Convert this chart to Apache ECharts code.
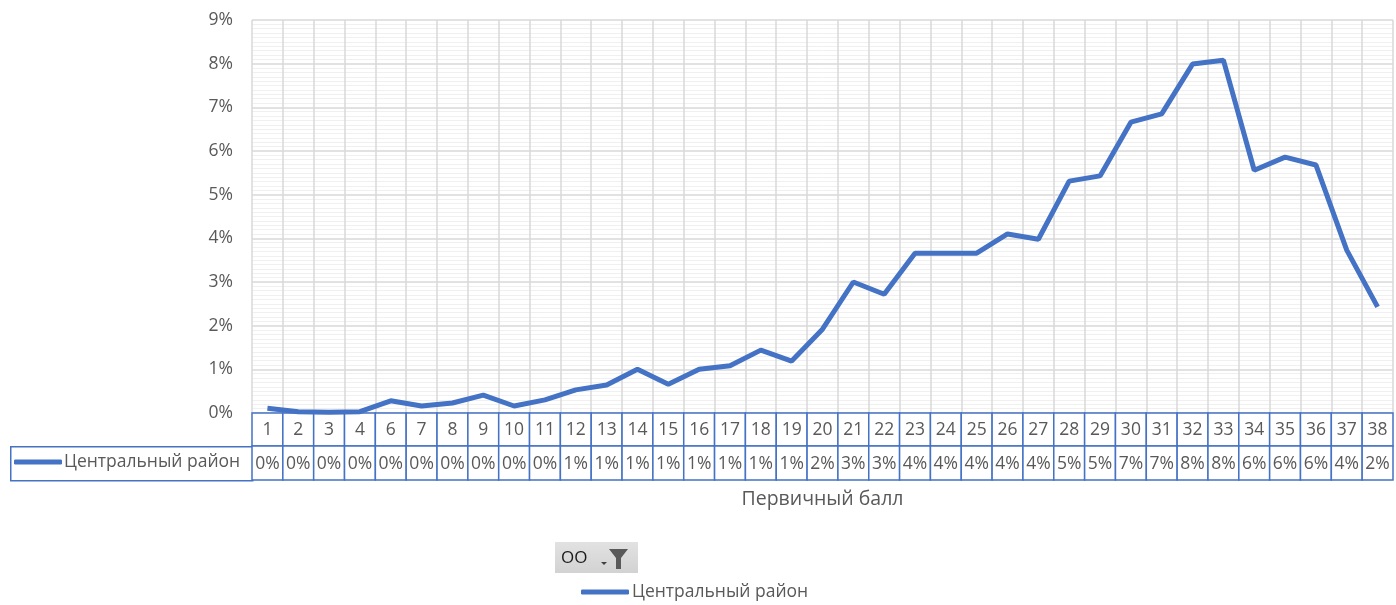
<!DOCTYPE html>
<html>
<head>
<meta charset="utf-8">
<script src="https://cdn.jsdelivr.net/npm/echarts@6/dist/echarts.min.js"></script>
<style>
html,body{margin:0;padding:0;background:#fff;}
#c{width:1396px;height:605px;}
</style>
</head>
<body>
<div id="c"></div>
<script>
// ---- data ----
const categories = ['1','2','3','4','6','7','8','9','10','11','12','13','14','15','16','17','18','19','20','21','22','23','24','25','26','27','28','29','30','31','32','33','34','35','36','37','38'];
const seriesName = 'Центральный район';
const values = [0.11,0.03,0.02,0.03,0.28,0.16,0.23,0.41,0.16,0.30,0.53,0.64,1.00,0.66,1.00,1.08,1.44,1.19,1.92,3.00,2.72,3.66,3.66,3.66,4.10,3.98,5.31,5.43,6.66,6.85,7.99,8.08,5.56,5.86,5.68,3.73,2.43];
const yTicks = {min: 0, max: 9, interval: 1};
const xAxisName = 'Первичный балл';
const filterLabel = 'OO';

// ---- style ----
const FONT = 'Open Sans';
const GRAY = '#595959';
const BLUE = '#4472C4';
const ROW1 = 33, ROW2 = 34;
const FS = 17.5;

const chart = echarts.init(document.getElementById('c'), null, {renderer: 'canvas'});

const tableData = categories.map((c, i) => [i, 0, Math.round(values[i]) + '%', c]);

const option = {
  animation: false,
  backgroundColor: '#fff',
  textStyle: {fontFamily: FONT},
  grid: {left: 252, right: 3, top: 20, bottom: 192, containLabel: false},
  legend: [
    {data: [seriesName], left: 14, top: 453, padding: 0, icon: 'roundRect', itemWidth: 48, itemHeight: 5, itemGap: 0,
     selectedMode: false, textStyle: {fontSize: FS, color: GRAY, fontFamily: FONT, padding: [0, 0, 0, -3]}},
    {data: [seriesName], left: 581, top: 583, padding: 0, icon: 'roundRect', itemWidth: 48, itemHeight: 5, itemGap: 0,
     selectedMode: false, textStyle: {fontSize: FS, color: GRAY, fontFamily: FONT, padding: [0, 0, 0, -2]}}
  ],
  xAxis: {
    type: 'category', data: categories, boundaryGap: true,
    axisLabel: {show: false}, axisTick: {show: false}, axisLine: {show: false},
    splitLine: {show: true, interval: 0, lineStyle: {color: '#d9d9d9', width: 1.5}},
    name: xAxisName, nameLocation: 'middle', nameGap: 76,
    nameTextStyle: {fontSize: 19.5, color: GRAY, fontFamily: FONT}
  },
  yAxis: {
    type: 'value', min: yTicks.min, max: yTicks.max, interval: yTicks.interval,
    axisLabel: {formatter: '{value}%', fontSize: FS, color: GRAY, margin: 19, fontFamily: FONT},
    axisLine: {show: false}, axisTick: {show: false},
    splitLine: {show: true, lineStyle: {color: '#d9d9d9', width: 1.5}},
    minorTick: {show: false, splitNumber: 10},
    minorSplitLine: {show: true, lineStyle: {color: '#f0f0f0', width: 1}}
  },
  series: [
    {
      name: seriesName, type: 'line', data: values, symbol: 'none', showSymbol: false,
      lineStyle: {color: BLUE, width: 5}, itemStyle: {color: BLUE}, z: 5
    },
    {
      name: 'table', type: 'custom', data: tableData, clip: false, z: 4, silent: true,
      encode: {x: 0, y: 1},
      renderItem: function (params, api) {
        const p = api.coord([api.value(0), 0]);
        const w = api.size([1, 0])[0];
        const x0 = p[0] - w / 2, y0 = p[1];
        const item = tableData[params.dataIndex];
        return {
          type: 'group',
          children: [
            {type: 'rect', shape: {x: x0, y: y0, width: w, height: ROW1},
             style: {fill: '#fff', stroke: BLUE, lineWidth: 1.5}},
            {type: 'rect', shape: {x: x0, y: y0 + ROW1, width: w, height: ROW2},
             style: {fill: '#fff', stroke: BLUE, lineWidth: 1.5}},
            {type: 'text', x: p[0], y: y0 + ROW1 / 2 + 1,
             style: {text: item[3], fill: GRAY, font: FS + 'px "' + FONT + '"', align: 'center', verticalAlign: 'middle'}},
            {type: 'text', x: p[0], y: y0 + ROW1 + ROW2 / 2 + 1,
             style: {text: item[2], fill: GRAY, font: FS + 'px "' + FONT + '"', align: 'center', verticalAlign: 'middle'}}
          ]
        };
      }
    }
  ],
  graphic: [
    {type: 'rect', left: 10, top: 446, shape: {width: 242, height: ROW2}, z: 1,
     style: {fill: '#fff', stroke: BLUE, lineWidth: 1.5}},
    {type: 'group', left: 555, top: 542, children: [
      {type: 'rect', shape: {x: 0, y: 0, width: 83, height: 31},
       style: {fill: new echarts.graphic.LinearGradient(0, 0, 0, 1, [{offset: 0, color: '#e2e2e2'}, {offset: 1, color: '#d2d2d2'}])}},
      {type: 'text', x: 6, y: 16, style: {text: filterLabel, fill: '#1a1a1a', font: '17px "' + FONT + '"', verticalAlign: 'middle'}},
      {type: 'polygon', shape: {points: [[46, 20], [52, 20], [49, 23]]}, style: {fill: '#404040'}},
      {type: 'polygon', shape: {points: [[54, 7], [73, 7], [66, 16], [66, 27], [61, 27], [61, 16]]}, style: {fill: '#595959'}}
    ]}
  ]
};
chart.setOption(option);
</script>
</body>
</html>
